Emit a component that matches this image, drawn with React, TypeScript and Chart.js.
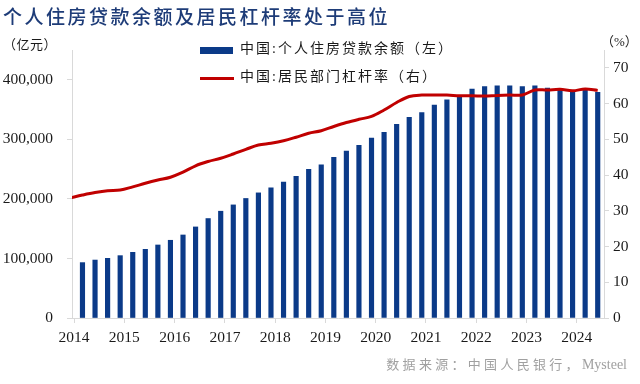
import React, { useEffect, useRef } from "react";
import { Chart, registerables } from "chart.js";

Chart.register(...registerables);

// Quarter-end dates (month positions on a monthly date axis)
const quarters = [
  "2013-12",
  "2014-03", "2014-06", "2014-09", "2014-12",
  "2015-03", "2015-06", "2015-09", "2015-12",
  "2016-03", "2016-06", "2016-09", "2016-12",
  "2017-03", "2017-06", "2017-09", "2017-12",
  "2018-03", "2018-06", "2018-09", "2018-12",
  "2019-03", "2019-06", "2019-09", "2019-12",
  "2020-03", "2020-06", "2020-09", "2020-12",
  "2021-03", "2021-06", "2021-09", "2021-12",
  "2022-03", "2022-06", "2022-09", "2022-12",
  "2023-03", "2023-06", "2023-09", "2023-12",
  "2024-03", "2024-06",
];

// 中国:个人住房贷款余额（亿元，左轴）
const loanBalance: (number | null)[] = [
  null,
  93000, 97300, 100200, 104700,
  110300, 115300, 122600, 130500,
  139400, 152900, 167000, 179300,
  189900, 200700, 210100, 218500,
  228100, 237700, 249500, 257200,
  269700, 280300, 289900, 302200,
  311800, 325300, 337000, 344800,
  357700, 366200, 372900, 384200,
  388600, 389700, 389700, 388600,
  389700, 385900, 384200, 381300,
  383000, 378800,
];

// 中国:居民部门杠杆率（%，右轴）
const leverageRatio: number[] = [
  33.6,
  34.4, 35.1, 35.6, 35.8,
  36.7, 37.7, 38.6, 39.4,
  40.8, 42.6, 43.8, 44.7,
  45.9, 47.2, 48.4, 48.9,
  49.6, 50.6, 51.7, 52.4,
  53.6, 54.7, 55.6, 56.4,
  58.2, 60.3, 62.0, 62.4,
  62.4, 62.4, 62.2, 62.2,
  62.1, 62.3, 62.4, 62.4,
  63.8, 63.8, 64.0, 63.6,
  64.1, 63.7,
];

const yearLabels = ["2014", "2015", "2016", "2017", "2018", "2019", "2020", "2021", "2022", "2023", "2024"];
const leftTicks = [0, 100000, 200000, 300000, 400000];
const rightTicks = [0, 10, 20, 30, 40, 50, 60, 70];

const title = "个人住房贷款余额及居民杠杆率处于高位";
const barLabel = "中国:个人住房贷款余额（左）";
const lineLabel = "中国:居民部门杠杆率（右）";
const leftUnit = "（亿元）";
const rightUnit = "（%）";
const sourcePrefix = "数据来源：中国人民银行，";
const sourceName = "Mysteel";

const NAVY = "#0B3A88";
const RED = "#C00000";
const AXIS = "#d9d9d9";
const FONT = "'Liberation Serif', 'Times New Roman', 'Noto Sans CJK SC', serif";
const CJK = "'Liberation Serif', 'Noto Sans CJK SC', serif";

const toMonth = (s: string) => {
  const [y, m] = s.split("-").map(Number);
  return (y - 2014) * 12 + (m - 1);
};

export default function App() {
  const ref = useRef<HTMLCanvasElement | null>(null);

  useEffect(() => {
    if (!ref.current) return;
    const barData = quarters
      .map((q, i) => ({ x: toMonth(q), y: loanBalance[i] }))
      .filter((p) => p.y !== null);
    const lineData = quarters.map((q, i) => ({ x: toMonth(q), y: leverageRatio[i] }));
    const tickFont = { family: FONT, size: 15.5 };

    const chart = new Chart(ref.current, {
      type: "bar",
      data: {
        datasets: [
          {
            type: "line",
            label: lineLabel,
            data: lineData as any,
            yAxisID: "yR",
            borderColor: RED,
            backgroundColor: RED,
            borderWidth: 3,
            pointRadius: 0,
            tension: 0.35,
            order: 0,
          } as any,
          {
            type: "bar",
            label: barLabel,
            data: barData as any,
            yAxisID: "yL",
            backgroundColor: NAVY,
            barThickness: 4.5,
            order: 1,
          } as any,
        ],
      },
      options: {
        animation: false,
        responsive: false,
        maintainAspectRatio: false,
        layout: { padding: { top: 50, left: 0, right: 0, bottom: 0 } },
        plugins: {
          legend: { display: false },
          tooltip: { enabled: false },
          title: { display: false },
        },
        scales: {
          x: {
            type: "linear",
            min: -0.5,
            max: 126.5,
            offset: false,
            grid: { drawOnChartArea: false, drawTicks: true, tickLength: 5, color: AXIS, offset: false },
            border: { display: true, color: AXIS },
            ticks: {
              font: tickFont,
              color: "#1a1a1a",
              padding: 6,
              maxRotation: 0,
              autoSkip: false,
              callback: (_v: any, i: number) => yearLabels[i],
            },
            afterBuildTicks: (s: any) => {
              s.ticks = yearLabels.map((_y, i) => ({ value: i * 12 }));
            },
            afterFit: (s: any) => {
              s.height = 66;
            },
          },
          yL: {
            type: "linear",
            position: "left",
            min: 0,
            max: 450000,
            grid: { drawOnChartArea: false, drawTicks: true, tickLength: 5, color: AXIS },
            border: { display: true, color: AXIS },
            ticks: {
              font: tickFont,
              color: "#1a1a1a",
              padding: 14,
              callback: (v: any) => Number(v).toLocaleString("en-US"),
            },
            afterBuildTicks: (s: any) => {
              s.ticks = leftTicks.map((v) => ({ value: v }));
            },
            afterFit: (s: any) => {
              s.width = 72;
            },
          },
          yR: {
            type: "linear",
            position: "right",
            min: 0,
            max: 75,
            grid: { drawOnChartArea: false, drawTicks: true, tickLength: 5, color: AXIS },
            border: { display: true, color: AXIS },
            ticks: {
              font: tickFont,
              color: "#1a1a1a",
              padding: 4,
              callback: (v: any) => String(v),
            },
            afterBuildTicks: (s: any) => {
              s.ticks = rightTicks.map((v) => ({ value: v }));
            },
            afterFit: (s: any) => {
              s.width = 36;
            },
          },
        },
      } as any,
    });
    return () => chart.destroy();
  }, []);

  const abs = (o: React.CSSProperties): React.CSSProperties => ({ position: "absolute", whiteSpace: "nowrap", ...o });

  return (
    <div style={{ position: "fixed", left: 0, top: 0, width: 640, height: 384, background: "#fff", overflow: "hidden" }}>
      <canvas ref={ref} width={640} height={384} style={{ position: "absolute", left: 0, top: 0, width: 640, height: 384 }} />
      <div style={abs({ left: 3, top: 6, fontSize: 19, lineHeight: "20px", letterSpacing: "2.5px", color: "#1E3C78", fontFamily: "'Noto Sans CJK SC', sans-serif", fontWeight: 500 })}>
        {title}
      </div>
      <div style={abs({ left: 3, top: 37, fontSize: 13, lineHeight: "16px", letterSpacing: "0.5px", color: "#1a1a1a", fontFamily: CJK })}>
        {leftUnit}
      </div>
      <div style={abs({ left: 601, top: 34, fontSize: 13, lineHeight: "16px", color: "#1a1a1a", fontFamily: CJK })}>
        {rightUnit}
      </div>
      <div style={abs({ left: 200, top: 46.5, width: 33, height: 7, background: NAVY })} />
      <div style={abs({ left: 240, top: 38.5, fontSize: 14, lineHeight: "20px", letterSpacing: "2px", color: "#1a1a1a", fontFamily: CJK })}>
        {barLabel}
      </div>
      <div style={abs({ left: 200, top: 76.5, width: 34, height: 3, background: RED })} />
      <div style={abs({ left: 240, top: 67, fontSize: 14, lineHeight: "20px", letterSpacing: "2px", color: "#1a1a1a", fontFamily: CJK })}>
        {lineLabel}
      </div>
      <div style={abs({ right: 13, top: 356, fontSize: 13, lineHeight: "18px", color: "#a0a0a0", fontFamily: CJK })}>
        <span style={{ letterSpacing: "3.3px" }}>{sourcePrefix}</span>
        <span style={{ fontSize: 14 }}>{sourceName}</span>
      </div>
    </div>
  );
}
